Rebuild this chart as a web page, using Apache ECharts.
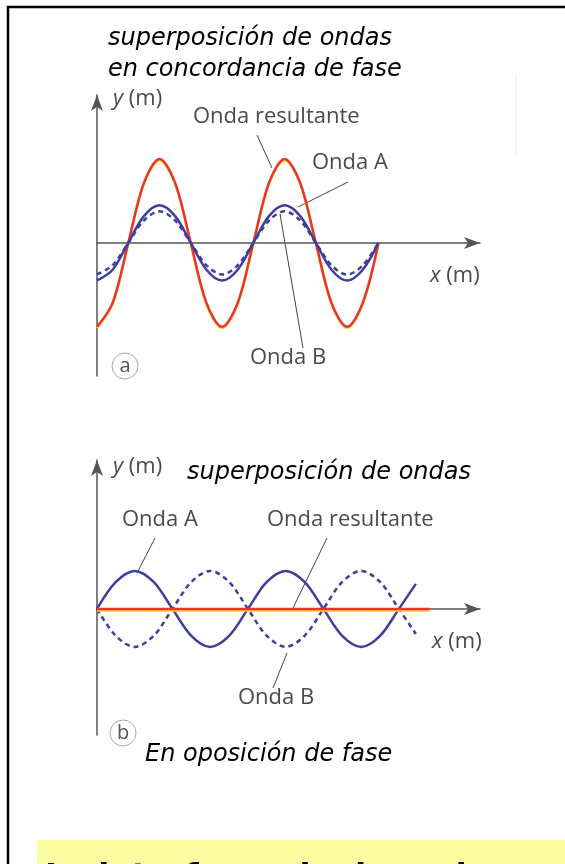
<!DOCTYPE html>
<html>
<head>
<meta charset="utf-8">
<title>superposición de ondas</title>
<script src="https://cdn.jsdelivr.net/npm/echarts@6/dist/echarts.min.js"></script>
<style>
    html, body { margin: 0; padding: 0; background: #fff; }
    #ecOndas { width: 565px; height: 864px; }
</style>
</head>
<body>
<div id="ecOndas"></div>
<script>
// (a) en concordancia de fase: x in quarter periods, y in axis units
var xFaseA = [0, 0.5, 1, 1.5, 2, 2.5, 3, 3.5, 4, 4.5, 5, 5.5, 6, 6.5, 7, 7.5, 8, 8.5, 9];
var resultanteA = [-2.1, -1.5, 0, 1.5, 2.1, 1.5, 0, -1.5, -2.1, -1.5, 0, 1.5, 2.1, 1.5, 0, -1.5, -2.1, -1.5, 0];
var ondaA_a = [-0.94, -0.67, 0, 0.67, 0.94, 0.67, 0, -0.67, -0.94, -0.67, 0, 0.67, 0.94, 0.67, 0, -0.67, -0.94, -0.67, 0];
var ondaB_a = [-0.79, -0.56, 0, 0.56, 0.79, 0.56, 0, -0.56, -0.79, -0.56, 0, 0.56, 0.79, 0.56, 0, -0.56, -0.79, -0.56, 0];

// (b) en oposición de fase
var xFaseB = [0, 0.5, 1, 1.5, 2, 2.5, 3, 3.5, 4, 4.5, 5, 5.5, 6, 6.5, 7, 7.5, 8, 8.45];
var ondaA_b = [0, 0.71, 1, 0.71, 0, -0.71, -1, -0.71, 0, 0.71, 1, 0.71, 0, -0.71, -1, -0.71, 0, 0.66];
var ondaB_b = [0, -0.71, -1, -0.71, 0, 0.71, 1, 0.71, 0, -0.71, -1, -0.71, 0, 0.71, 1, 0.71, 0, -0.66];
var xResultanteB = [0, 8.82];
var resultanteB = [0, 0];

function pares(xs, ys) {
    return xs.map(function (x, i) { return [x, ys[i]]; });
}

var rojo = '#e8352b';
var azul = '#3d3f9e';
var gris = '#4a4a4a';

var ejeX = {
    type: 'value',
    axisLine: {
        onZero: true,
        symbol: ['none', 'arrow'],
        symbolSize: [9, 16],
        lineStyle: { color: '#555', width: 1.5 }
    },
    axisTick: { show: false },
    axisLabel: { show: false },
    splitLine: { show: false }
};

function eje(extra) {
    return Object.assign(JSON.parse(JSON.stringify(ejeX)), extra);
}

function linea(nombre, xi, datos, color, tipo) {
    return {
        name: nombre,
        type: 'line',
        xAxisIndex: xi,
        yAxisIndex: xi,
        data: datos,
        smooth: 0.33,
        showSymbol: false,
        silent: true,
        lineStyle: { color: color, width: 2.5, type: tipo || 'solid' }
    };
}

function texto(x, y, t, estilo) {
    return {
        type: 'text', left: x, top: y,
        style: Object.assign({ text: t, fill: gris, font: '22px "Open Sans"' }, estilo || {})
    };
}

function ejeNombre(x, y, letra) {
    return texto(x, y, '{i|' + letra + '} (m)', {
        rich: { i: { font: 'italic 22px "Open Sans"', fill: gris } },
        font: '22px "Open Sans"'
    });
}

function guia(x1, y1, x2, y2) {
    return {
        type: 'line',
        shape: { x1: x1, y1: y1, x2: x2, y2: y2 },
        style: { stroke: '#444', lineWidth: 1 }
    };
}

function circulo(cx, cy, letra) {
    return {
        type: 'group',
        children: [
            { type: 'circle', shape: { cx: cx, cy: cy, r: 13 }, style: { fill: '#fff', stroke: '#aaa', lineWidth: 1 } },
            { type: 'text', x: cx, y: cy, style: { text: letra, fill: '#555', font: '20px "Open Sans"', textAlign: 'center', textVerticalAlign: 'middle' } }
        ]
    };
}

var serieRojaA = linea('Onda resultante', 0, pares(xFaseA, resultanteA), rojo);
serieRojaA.lineStyle.shadowColor = '#f5d53a';
serieRojaA.lineStyle.shadowOffsetY = 1.2;
var serieRojaB = linea('Onda resultante', 1, pares(xResultanteB, resultanteB), rojo);
serieRojaB.lineStyle.shadowColor = '#f5d53a';
serieRojaB.lineStyle.shadowOffsetY = 1.5;
serieRojaB.smooth = false;

var titulo = { fill: '#000', font: 'italic 24px "DejaVu Sans"' };

var chart = echarts.init(document.getElementById('ecOndas'));
chart.setOption({
    backgroundColor: '#fff',
    animation: false,
    grid: [
        { left: 97, top: 95, width: 383, height: 281 },
        { left: 97, top: 460, width: 383, height: 275 }
    ],
    xAxis: [
        eje({ gridIndex: 0, min: 0, max: 12.25 }),
        eje({ gridIndex: 1, min: 0, max: 10.15 })
    ],
    yAxis: [
        eje({ gridIndex: 0, min: -3.33, max: 3.7 }),
        eje({ gridIndex: 1, min: -3.32, max: 3.92 })
    ],
    series: [
        serieRojaA,
        linea('Onda B', 0, pares(xFaseA, ondaB_a), azul, [5, 4]),
        linea('Onda A', 0, pares(xFaseA, ondaA_a), azul),
        linea('Onda A', 1, pares(xFaseB, ondaA_b), azul),
        linea('Onda B', 1, pares(xFaseB, ondaB_b), azul, [5, 4]),
        serieRojaB
    ],
    graphic: [
        // marco
        { type: 'polyline', shape: { points: [[8, 864], [8, 7], [565, 7]] }, style: { stroke: '#000', lineWidth: 2.5, fill: null } },
        { type: 'line', shape: { x1: 516, y1: 75, x2: 516, y2: 155 }, style: { stroke: '#ececec', lineWidth: 1 } },
        // (a)
        texto(108, 27, 'superposición de ondas', titulo),
        texto(108, 58, 'en concordancia de fase', titulo),
        ejeNombre(113, 88, 'y'),
        ejeNombre(430, 265, 'x'),
        texto(193, 106, 'Onda resultante'),
        texto(312, 152, 'Onda A'),
        texto(250, 347, 'Onda B'),
        guia(257, 135, 272, 168),
        guia(348, 182, 298, 207),
        guia(303, 348, 280, 214),
        circulo(125, 366, 'a'),
        // (b)
        ejeNombre(113, 456, 'y'),
        texto(187, 461, 'superposición de ondas', titulo),
        texto(122, 509, 'Onda A'),
        texto(267, 509, 'Onda resultante'),
        ejeNombre(432, 631, 'x'),
        texto(238, 687, 'Onda B'),
        guia(155, 538, 138, 571),
        guia(327, 538, 293, 608),
        guia(273, 688, 287, 653),
        circulo(123, 733, 'b'),
        texto(145, 743, 'En oposición de fase', titulo),
        // recuadro amarillo
        { type: 'rect', shape: { x: 37, y: 840, width: 540, height: 40 }, style: { fill: '#fcfca3' } },
        texto(45, 862, 'La interferencia de ondas es máxima', { fill: '#000', font: 'bold 32px "DejaVu Sans"' })
    ]
});

window.addEventListener('resize', function () {
    chart.resize();
});
</script>
</body>
</html>
